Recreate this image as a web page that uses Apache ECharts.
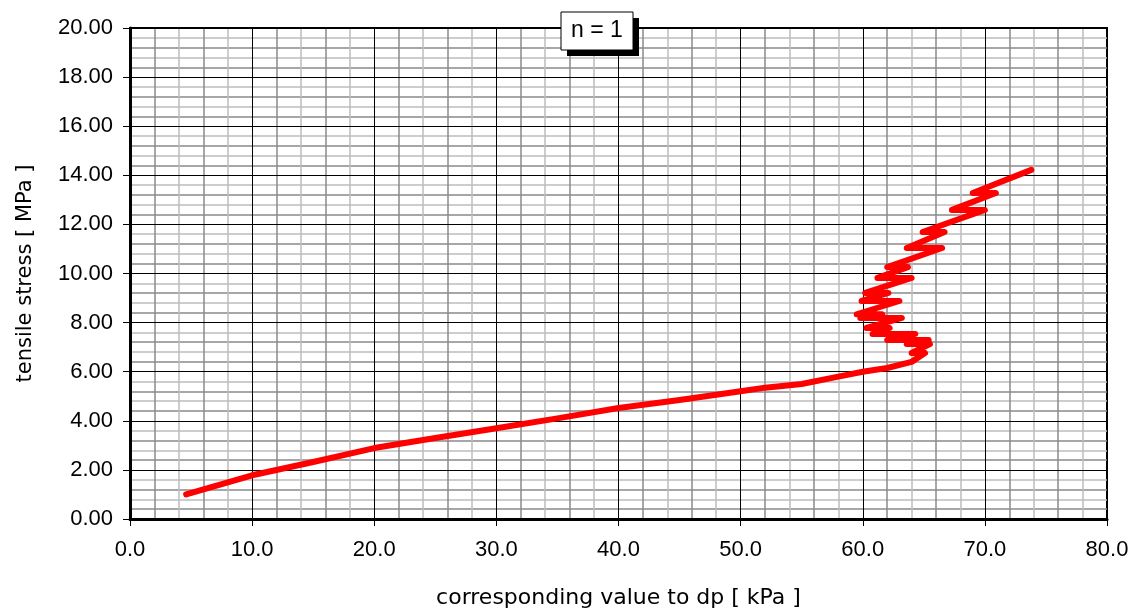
<!DOCTYPE html>
<html>
<head>
<meta charset="utf-8">
<script src="https://cdn.jsdelivr.net/npm/echarts@6/dist/echarts.min.js"></script>
<style>
  html, body { margin: 0; padding: 0; background: #fff; }
  #chart { width: 1129px; height: 612px; }
</style>
</head>
<body>
<div id="chart"></div>
<script>
// corresponding value to dp [kPa]
const dpValues = [
  4.6, 10.0, 15.0, 20.0, 25.0, 30.0, 35.0, 40.0, 45.0, 50.0, 52.0, 55.0, 58.0, 60.0, 62.0, 64.0,
  65.1, 64.0, 65.5, 63.6, 65.4, 62.0, 64.3, 60.8, 62.2, 60.3, 63.2, 59.8, 61.6, 59.5,
  63.0, 59.9, 62.1, 60.2, 64.0, 61.2, 63.7, 62.0, 66.5, 63.6, 66.7, 64.9, 70.0, 67.3,
  70.9, 69.0, 73.8
];
// tensile stress [MPa]
const stressValues = [
  1.0, 1.78, 2.32, 2.89, 3.3, 3.7, 4.1, 4.52, 4.85, 5.2, 5.35, 5.5, 5.8, 6.0, 6.15, 6.4,
  6.76, 6.76, 7.13, 7.13, 7.29, 7.29, 7.54, 7.54, 7.78, 7.78, 8.19, 8.19, 8.34, 8.34,
  8.88, 8.88, 9.21, 9.21, 9.82, 9.82, 10.26, 10.26, 11.04, 11.04, 11.69, 11.69, 12.59, 12.59,
  13.28, 13.28, 14.22
];
const seriesLabel = 'n = 1';

const fontName = '"Liberation Sans", Arial, sans-serif';
const nameFont = '"DejaVu Sans", sans-serif';
const minorColors = ['rgba(0,0,0,0)', '#8a8a8a', '#bdbdbd', '#8a8a8a', '#bdbdbd'];

let chart = echarts.init(document.getElementById('chart'));

chart.setOption({
  animation: false,
  backgroundColor: '#fff',
  grid: {
    left: 130, right: 22, top: 28, bottom: 93,
    outerBoundsMode: 'none',
    containLabel: false,
    show: true, borderColor: '#000', borderWidth: 2
  },
  xAxis: [
    {
      type: 'value', min: 0, max: 80, interval: 10,
      name: 'corresponding value to dp [ kPa ]',
      nameLocation: 'middle', nameGap: 68,
      nameTextStyle: { fontFamily: nameFont, fontSize: 22, color: '#000' },
      axisLine: { show: true, onZero: false, lineStyle: { color: '#000', width: 3 } },
      axisTick: { show: true, length: 7, lineStyle: { color: '#000', width: 1 } },
      axisLabel: {
        margin: 20, fontFamily: fontName, fontSize: 22, color: '#000',
        formatter: v => v.toFixed(1)
      },
      splitLine: { show: true, lineStyle: { color: '#000', width: 1 } },
      z: 3
    },
    {
      type: 'value', min: 0, max: 80, interval: 2,
      axisLine: { show: false }, axisTick: { show: false }, axisLabel: { show: false },
      splitLine: { show: true, lineStyle: { color: minorColors, width: 1.5 } },
      z: 1
    }
  ],
  yAxis: [
    {
      type: 'value', min: 0, max: 20, interval: 2,
      name: 'tensile stress [ MPa ]',
      nameLocation: 'middle', nameGap: 94,
      nameTextStyle: { fontFamily: nameFont, fontSize: 21, color: '#000' },
      axisLine: { show: true, onZero: false, lineStyle: { color: '#000', width: 3 } },
      axisTick: { show: true, length: 7, lineStyle: { color: '#000', width: 1 } },
      axisLabel: {
        margin: 17, fontFamily: fontName, fontSize: 22, color: '#000',
        formatter: v => v.toFixed(2)
      },
      splitLine: { show: true, lineStyle: { color: '#000', width: 1 } },
      z: 3
    },
    {
      type: 'value', min: 0, max: 20, interval: 0.4,
      axisLine: { show: false }, axisTick: { show: false }, axisLabel: { show: false },
      splitLine: { show: true, lineStyle: { color: minorColors, width: 1.5 } },
      z: 1
    }
  ],
  series: [
    {
      name: seriesLabel,
      type: 'line',
      xAxisIndex: 0, yAxisIndex: 0,
      data: dpValues.map((x, i) => [x, stressValues[i]]),
      showSymbol: false,
      smooth: false,
      lineStyle: { color: '#ff0000', width: 6, cap: 'round', join: 'round' },
      z: 5
    }
  ],
  graphic: [
    {
      type: 'rect', z: 100,
      shape: { x: 567, y: 18, width: 72, height: 38 },
      style: { fill: '#000' }
    },
    {
      type: 'rect', z: 101,
      shape: { x: 561, y: 12, width: 72, height: 38 },
      style: { fill: '#fff', stroke: '#000', lineWidth: 1 }
    },
    {
      type: 'text', z: 102,
      x: 597, y: 31,
      style: {
        text: seriesLabel, fontFamily: fontName, fontSize: 23, fill: '#000',
        align: 'center', verticalAlign: 'middle'
      }
    }
  ]
});
</script>
</body>
</html>
